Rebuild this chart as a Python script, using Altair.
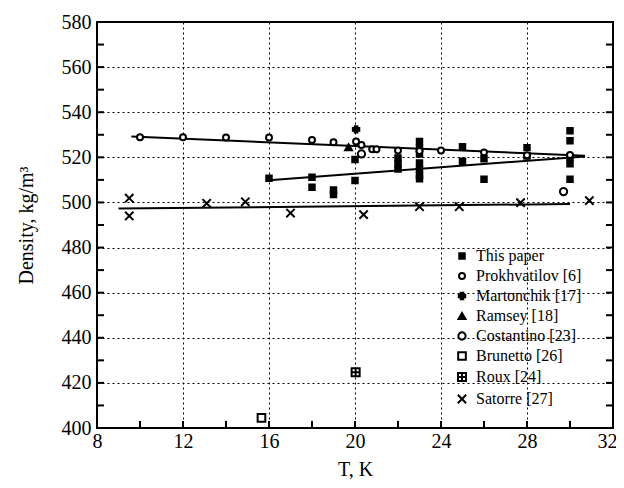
import altair as alt
import pandas as pd

FONT = "Liberation Serif"

series_names = ["This paper", "Prokhvatilov [6]", "Martonchik [17]", "Ramsey [18]",
                "Costantino [23]", "Brunetto [26]", "Roux [24]", "Satorre [27]"]

this_T = [16.0, 18.0, 18.0, 19.0, 19.0, 20.0, 20.0, 22.0, 22.0, 22.0,
          23.0, 23.0, 23.0, 23.0, 23.0, 23.0, 23.0, 25.0, 25.0, 26.0, 26.0,
          28.0, 28.0, 30.0, 30.0, 30.0, 30.0, 30.0]
this_D = [510.7, 511.2, 506.7, 505.5, 503.5, 509.7, 519.0, 519.7, 517.0, 514.8,
          527.0, 524.0, 521.5, 517.5, 514.5, 512.0, 510.5, 524.7, 518.3, 519.4, 510.3,
          524.3, 520.6, 531.8, 527.4, 520.0, 517.2, 510.3]

prokh_T = [10.0, 12.0, 14.0, 16.0, 18.0, 19.0, 20.05, 20.3, 20.8, 21.0, 22.0, 23.0, 24.0, 26.0, 28.0, 30.0]
prokh_D = [528.9, 528.9, 528.8, 528.8, 527.7, 526.7, 527.0, 525.5, 523.6, 523.6, 523.0, 522.8, 523.0, 522.2, 520.9, 521.0]

mart_T = [20.05]
mart_D = [532.4]

ramsey_T = [19.7]
ramsey_D = [524.5]

cost_T = [20.3, 29.7]
cost_D = [521.5, 504.8]

brun_T = [15.65]
brun_D = [404.5]

roux_T = [20.03]
roux_D = [424.7]

sat_T = [9.5, 9.5, 13.1, 14.9, 17.0, 20.4, 23.0, 24.85, 27.7, 30.9]
sat_D = [501.9, 494.0, 499.6, 500.3, 495.3, 494.6, 498.1, 498.1, 499.9, 500.8]

# fitted lines (end points)
fit_names = ["Prokhvatilov fit", "Prokhvatilov fit", "This paper fit", "This paper fit",
             "Satorre fit", "Satorre fit"]
fit_T = [9.6, 30.7, 16.0, 30.7, 9.0, 30.0]
fit_D = [529.2, 520.7, 509.8, 520.4, 497.3, 499.3]

x_major = [8, 12, 16, 20, 24, 28, 32]
y_major = list(range(400, 581, 20))
x_ticks = list(range(10, 31, 2))      # inward tick positions, T axis
y_ticks = list(range(410, 571, 10))   # inward tick positions, density axis
X_MIN, X_MAX = 8, 32
Y_MIN, Y_MAX = 400, 580

pts_T = [this_T, prokh_T, mart_T, ramsey_T, cost_T, brun_T, roux_T, sat_T]
pts_D = [this_D, prokh_D, mart_D, ramsey_D, cost_D, brun_D, roux_D, sat_D]
rows = []
for name, ts, ds in zip(series_names, pts_T, pts_D):
    for t, d in zip(ts, ds):
        rows.append({"series": name, "T": t, "D": d})
points = pd.DataFrame(rows)
fits = pd.DataFrame({"fit": fit_names, "T": fit_T, "D": fit_D})
xt = pd.DataFrame({"T": x_ticks, "D": [Y_MIN] * len(x_ticks)})
yt_left = pd.DataFrame({"T": [X_MIN] * len(y_ticks), "D": y_ticks})
yt_right = pd.DataFrame({"T": [X_MAX] * len(y_ticks), "D": y_ticks})

roux_path = "M-1,-1H1V1H-1Z M0,-1V1 M-1,0H1"
x_path = "M-1,-1L1,1M-1,1L1,-1"

shape_range = ["square", "circle", "cross", "triangle-up", "circle", "square", roux_path, x_path]
fill_range = ["black", "white", "black", "black", "white", "white", "white", "transparent"]
stroke_range = ["black"] * 8
size_range = [30, 70, 130, 120, 190, 85, 85, 170]

xscale = alt.Scale(domain=[X_MIN, X_MAX], nice=False, zero=False)
yscale = alt.Scale(domain=[Y_MIN, Y_MAX], nice=False, zero=False)

TICK = 7

x_lab = alt.Axis(values=x_major, grid=True, ticks=False, domain=False, title="T, K",
                 labelFont=FONT, labelFontSize=20, labelColor="black", labelPadding=3,
                 labelOffset={"condition": {"test": "datum.value == 32", "value": -6}, "value": 0},
                 titleFont=FONT, titleFontSize=20, titleFontWeight="normal", titleColor="black",
                 titlePadding=8, gridColor="black", gridDash=[2, 3], gridWidth=1, gridOpacity=1,
                 orient="bottom", labelFlush=False)
y_lab = alt.Axis(values=y_major, grid=True, ticks=False, domain=False, title="Density, kg/m³",
                 labelFont=FONT, labelFontSize=20, labelColor="black", labelPadding=6,
                 titleFont=FONT, titleFontSize=20, titleFontWeight="normal", titleColor="black",
                 titlePadding=25, gridColor="black", gridDash=[2, 3], gridWidth=1, gridOpacity=1,
                 orient="left", labelFlush=False)

lines = alt.Chart(fits).mark_line(color="black", strokeWidth=2).encode(
    x=alt.X("T:Q", scale=xscale, axis=x_lab),
    y=alt.Y("D:Q", scale=yscale, axis=y_lab),
    detail="fit:N",
)

# inward ticks along the frame, drawn as short point-marks on the frame
vtick = "M0,0V-1"
htick_l = "M0,0H1"
htick_r = "M0,0H-1"

def tick_layer(df, path):
    return alt.Chart(df).mark_point(
        shape=path, size=(2 * TICK) ** 2, stroke="black", strokeWidth=2, opacity=1, filled=False
    ).encode(
        x=alt.X("T:Q", scale=xscale, axis=None),
        y=alt.Y("D:Q", scale=yscale, axis=None),
    )

bottom_ticks = tick_layer(xt, vtick)
left_ticks = tick_layer(yt_left, htick_l)
right_ticks = tick_layer(yt_right, htick_r)

leg = dict(title=None, symbolStrokeWidth=2, symbolOpacity=1)

pts = alt.Chart(points).mark_point(strokeWidth=2, opacity=1).encode(
    x=alt.X("T:Q", scale=xscale, axis=None),
    y=alt.Y("D:Q", scale=yscale, axis=None),
    shape=alt.Shape("series:N", scale=alt.Scale(domain=series_names, range=shape_range),
                    legend=alt.Legend(**leg)),
    fill=alt.Fill("series:N", scale=alt.Scale(domain=series_names, range=fill_range),
                  legend=alt.Legend(**leg)),
    stroke=alt.Stroke("series:N", scale=alt.Scale(domain=series_names, range=stroke_range),
                      legend=alt.Legend(**leg)),
    size=alt.Size("series:N", scale=alt.Scale(domain=series_names, range=size_range),
                  legend=alt.Legend(**leg)),
)

chart = alt.layer(lines, bottom_ticks, left_ticks, right_ticks, pts).resolve_axis(
    x="independent", y="independent"
).properties(
    width=516, height=406,
    autosize=alt.AutoSizeParams(type="none"),
    padding={"left": 89, "top": 14, "right": 3, "bottom": 52},
).configure_view(
    stroke="black", strokeWidth=2
).configure_legend(
    orient="none", legendX=357, legendY=226,
    labelFont=FONT, labelFontSize=16, labelColor="black",
    rowPadding=4, labelOffset=6, padding=0,
)

chart.save("out.html", embed_options={"renderer": "svg", "actions": False})
